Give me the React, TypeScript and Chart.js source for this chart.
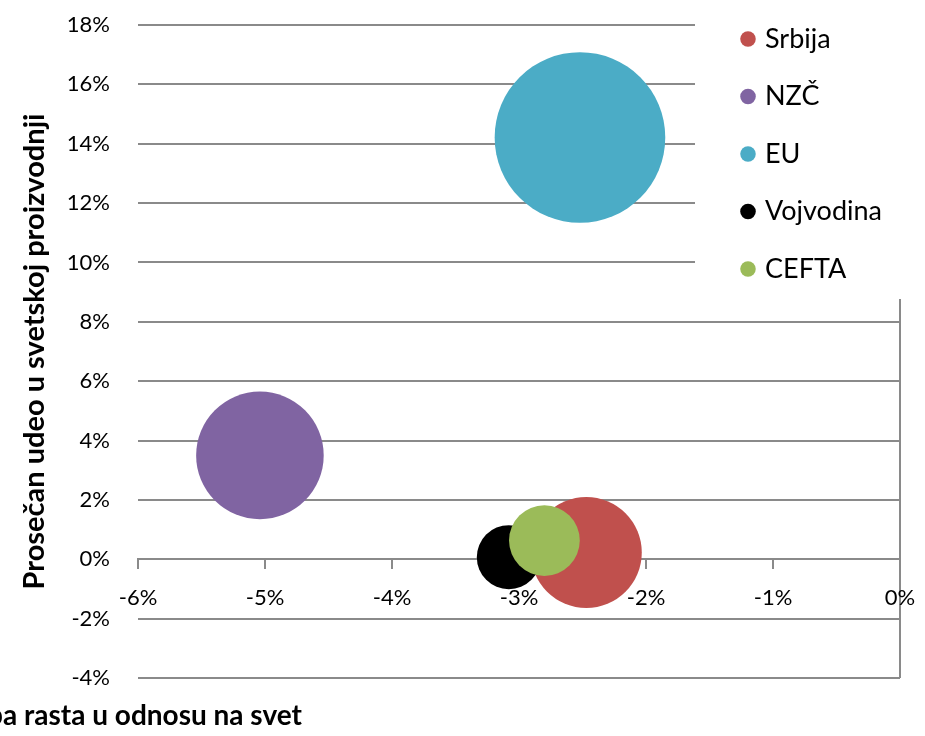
import React, { useEffect, useRef } from 'react';
import { Chart, registerables } from 'chart.js';

Chart.register(...registerables);

// ---- data ----
const seriesNames = ['Srbija', 'NZČ', 'EU', 'Vojvodina', 'CEFTA'];
const relativeGrowth = [-2.47, -5.04, -2.52, -3.08, -2.8]; // x, %
const worldShare = [0.23, 3.5, 14.21, 0.07, 0.63]; // y, %
const bubbleSize = [42.3, 55.9, 100, 14.1, 17.2]; // relative bubble size (area)
const seriesColors = ['#C0504D', '#8064A2', '#4BACC6', '#000000', '#9BBB59'];

const xMin = -6;
const xMax = 0;
const xStep = 1;
const yMin = -4;
const yMax = 18;
const yStep = 2;

const yTitle = 'Prosečan udeo u svetskoj proizvodnji';
const xTitle = 'Prosečna razlika stopa rasta u odnosu na svet';

// ---- style ----
const FONT = 'Lato';
const GRID = '#8a8a8a';
const MAX_RADIUS = 85.3;
const LEGEND_BOX = { left: 695, top: 0, right: 925, bottom: 299 };

const maxSize = Math.max(...bubbleSize);

const legendPlacement = {
  id: 'legendPlacement',
  afterLayout(chart: any) {
    const lg = chart.legend;
    if (!lg) return;
    const left = 714;
    const top = -5;
    lg.left = left;
    lg.right = left + lg.width + 20;
    lg.top = top;
    lg.bottom = top + lg.height;
    if (!lg.__boxed) {
      const base = lg.draw;
      lg.draw = function (area: any) {
        const ctx = chart.ctx;
        ctx.save();
        ctx.fillStyle = '#ffffff';
        ctx.fillRect(
          LEGEND_BOX.left,
          LEGEND_BOX.top,
          LEGEND_BOX.right - LEGEND_BOX.left,
          LEGEND_BOX.bottom - LEGEND_BOX.top
        );
        ctx.restore();
        base.call(this, area);
      };
      lg.__boxed = true;
    }
  },
};

const xTitlePlugin = {
  id: 'xTitle',
  afterDraw(chart: any) {
    const ctx = chart.ctx;
    const area = chart.chartArea;
    ctx.save();
    ctx.font = `bold 28px ${FONT}`;
    ctx.fillStyle = '#000000';
    ctx.textAlign = 'right';
    ctx.textBaseline = 'alphabetic';
    ctx.fillText(xTitle, 302, area.bottom + 47);
    ctx.restore();
  },
};

export default function App() {
  const ref = useRef<HTMLCanvasElement | null>(null);

  useEffect(() => {
    document.body.style.margin = '0';
    const canvas = ref.current;
    if (!canvas) return;

    const datasets = seriesNames.map((name, i) => ({
      label: name,
      data: [
        {
          x: relativeGrowth[i],
          y: worldShare[i],
          r: MAX_RADIUS * Math.sqrt(bubbleSize[i] / maxSize),
        },
      ],
      backgroundColor: seriesColors[i],
      borderColor: seriesColors[i],
      borderWidth: 0,
      hoverBorderWidth: 0,
      order: -i,
      clip: false as any,
    }));

    const chart = new Chart(canvas, {
      type: 'bubble',
      data: { datasets },
      plugins: [legendPlacement, xTitlePlugin],
      options: {
        responsive: false,
        animation: false,
        devicePixelRatio: 1,
        events: [],
        layout: { autoPadding: false, padding: { top: 25, right: 25, bottom: 58, left: 0 } },
        font: { family: FONT },
        scales: {
          x: {
            type: 'linear',
            min: xMin,
            max: xMax,
            position: { y: 0 } as any,
            afterFit: (scale: any) => {
              scale.paddingLeft = 0;
              scale.paddingRight = 0;
            },
            ticks: {
              stepSize: xStep,
              color: '#000000',
              font: { family: FONT, size: 22 },
              padding: 16,
              z: 1,
              callback: (v: any) => `${v}%`,
            },
            grid: {
              color: (ctx: any) => (ctx.tick && ctx.tick.value === 0 ? GRID : 'rgba(0,0,0,0)'),
              tickColor: GRID,
              lineWidth: 2,
              tickLength: 9,
              drawTicks: true,
            },
            border: { display: true, color: GRID, width: 2 },
          },
          y: {
            type: 'linear',
            min: yMin,
            max: yMax,
            position: 'left',
            afterFit: (scale: any) => {
              scale.width = 138;
              scale.paddingTop = 0;
              scale.paddingBottom = 0;
            },
            ticks: {
              stepSize: yStep,
              color: '#000000',
              font: { family: FONT, size: 22 },
              padding: 28,
              callback: (v: any) => `${v}%`,
            },
            grid: {
              color: GRID,
              lineWidth: 2,
              drawTicks: false,
            },
            border: { display: false },
            title: {
              display: true,
              text: yTitle,
              color: '#000000',
              font: { family: FONT, size: 29, weight: 'bold' },
              padding: { top: 17, bottom: 0 },
            },
          },
        },
        plugins: {
          legend: {
            display: true,
            position: 'chartArea' as any,
            align: 'start',
            labels: {
              usePointStyle: true,
              pointStyle: 'circle',
              boxWidth: 7,
              boxHeight: 11,
              padding: 30.5,
              color: '#000000',
              font: { family: FONT, size: 27 },
              sort: (a: any, b: any) => a.datasetIndex - b.datasetIndex,
            },
          },
          tooltip: { enabled: false },
        },
      } as any,
    });

    return () => {
      chart.destroy();
    };
  }, []);

  return (
    <canvas
      ref={ref}
      width={925}
      height={736}
      style={{ display: 'block', width: 925, height: 736 }}
    />
  );
}
